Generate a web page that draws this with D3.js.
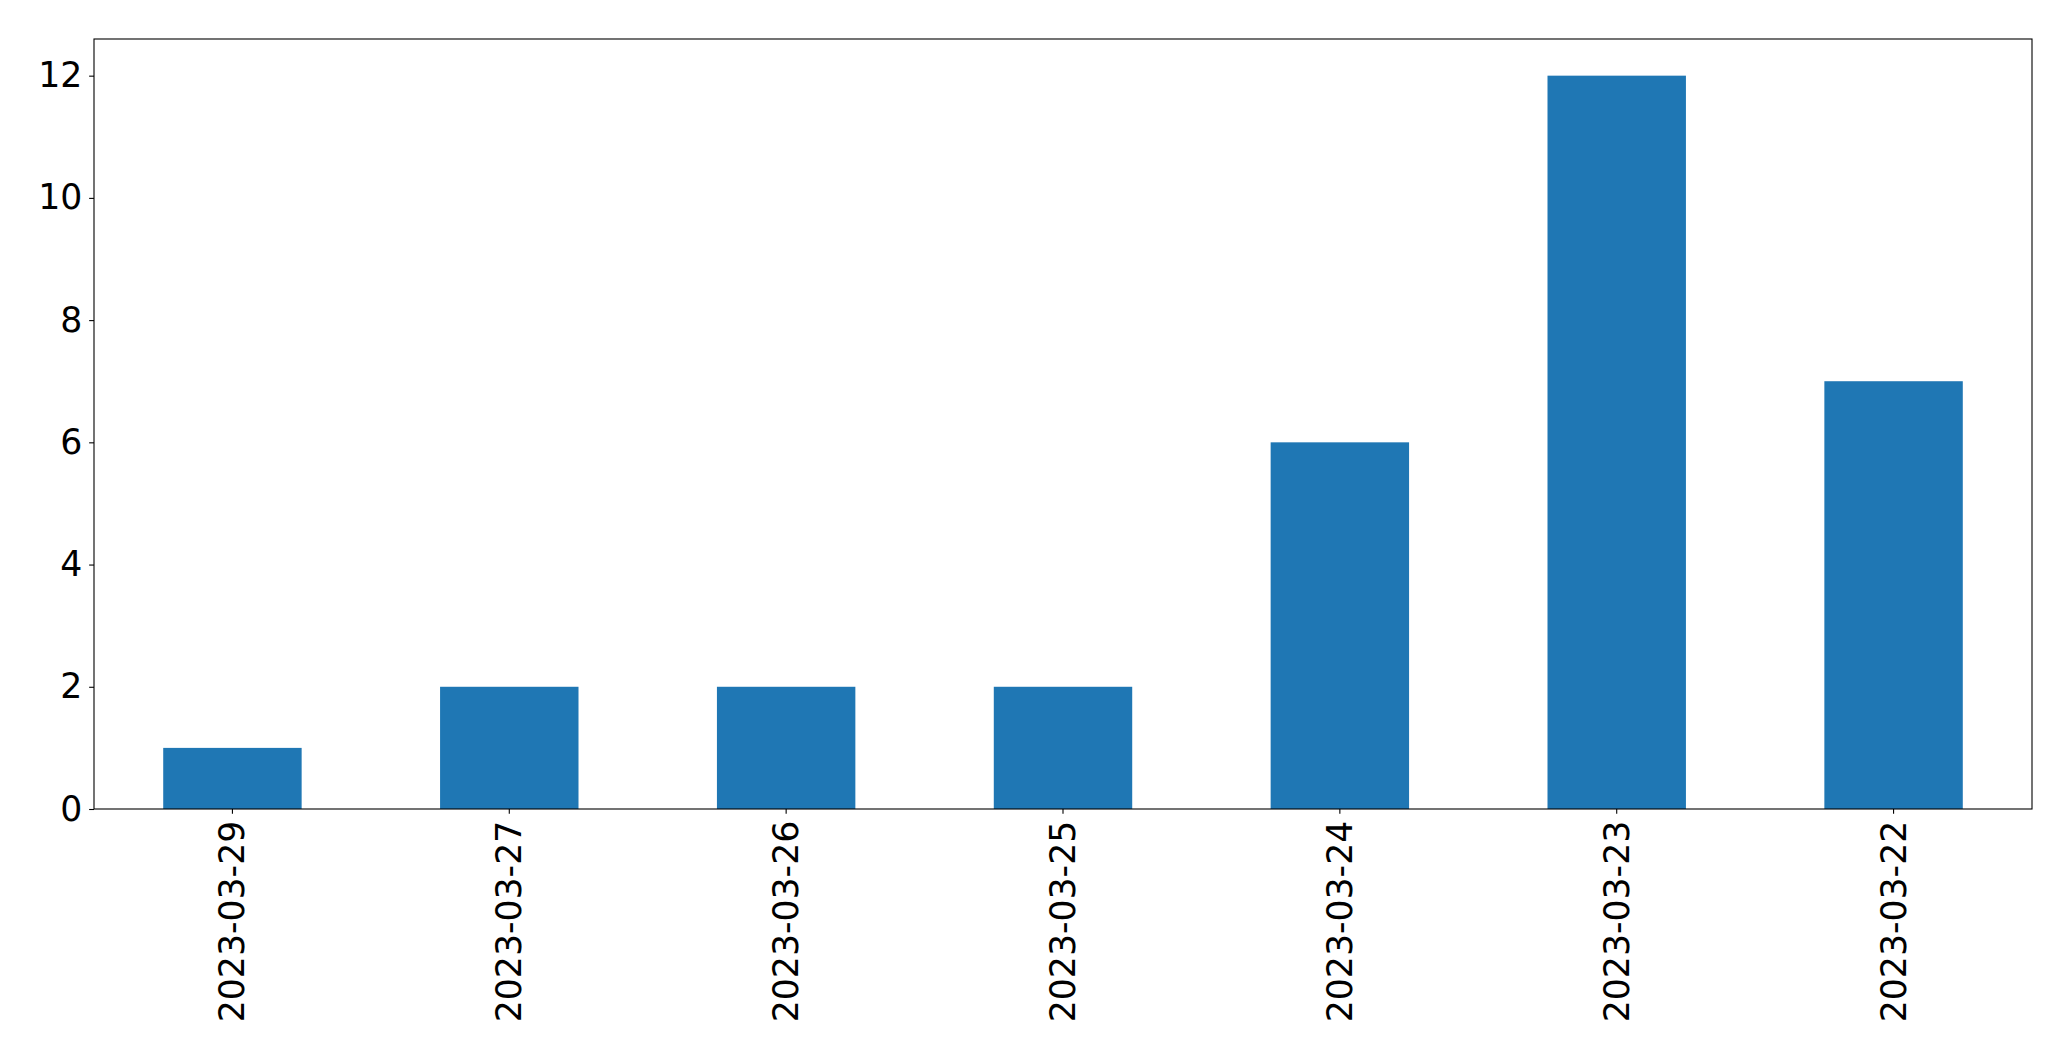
<!DOCTYPE html>
<html>
<head>
<meta charset="utf-8">
<script src="https://cdn.jsdelivr.net/npm/d3@7"></script>
<style>
  html, body { margin: 0; padding: 0; background: #fff; }
  svg { display: block; }
  text { font-family: "DejaVu Sans", sans-serif; fill: #000; }
</style>
</head>
<body>
<svg id="chart" width="2071" height="1061"></svg>
<script>
const categories = ["2023-03-29", "2023-03-27", "2023-03-26", "2023-03-25", "2023-03-24", "2023-03-23", "2023-03-22"];
const values = [1, 2, 2, 2, 6, 12, 7];
const yTicks = [0, 2, 4, 6, 8, 10, 12];

const W = 2071, H = 1061;
const margin = { left: 94, right: 2071 - 2032, top: 39, bottom: 1061 - 809 };
const svg = d3.select("#chart");

const x = d3.scaleBand()
  .domain(categories)
  .range([margin.left, W - margin.right])
  .paddingInner(0.5)
  .paddingOuter(0.25);

const yMax = d3.max(values) * 1.05;
const y = d3.scaleLinear()
  .domain([0, yMax])
  .range([H - margin.bottom, margin.top]);

const fontSize = "34.7px";
const tickLen = 4.86;
const pad = 4.86;

// bars
svg.append("g")
  .selectAll("rect")
  .data(values)
  .join("rect")
  .attr("x", (d, i) => x(categories[i]))
  .attr("width", x.bandwidth())
  .attr("y", d => y(d))
  .attr("height", d => y(0) - y(d))
  .attr("fill", "#1f77b4");

// y axis
const yAxis = svg.append("g")
  .attr("transform", `translate(${margin.left},0)`)
  .call(d3.axisLeft(y).tickValues(yTicks).tickSize(tickLen).tickSizeOuter(0).tickPadding(pad + 2));
yAxis.select(".domain").remove();
yAxis.selectAll(".tick line").attr("stroke", "#000").attr("stroke-width", 1.1);
yAxis.selectAll(".tick text")
  .attr("font-size", fontSize)
  .attr("font-family", "DejaVu Sans, sans-serif")
  .attr("fill", "#000");

// x axis
const xAxis = svg.append("g")
  .attr("transform", `translate(0,${H - margin.bottom})`)
  .call(d3.axisBottom(x).tickSize(tickLen).tickSizeOuter(0));
xAxis.select(".domain").remove();
xAxis.selectAll(".tick line").attr("stroke", "#000").attr("stroke-width", 1.1);
xAxis.selectAll(".tick text")
  .attr("font-size", fontSize)
  .attr("font-family", "DejaVu Sans, sans-serif")
  .attr("fill", "#000")
  .attr("text-anchor", "end")
  .attr("dy", null)
  .attr("dominant-baseline", "central")
  .attr("y", 0)
  .attr("transform", `translate(0,${tickLen + pad + 2}) rotate(-90)`);

// frame
svg.append("rect")
  .attr("x", margin.left)
  .attr("y", margin.top)
  .attr("width", W - margin.right - margin.left)
  .attr("height", H - margin.bottom - margin.top)
  .attr("fill", "none")
  .attr("stroke", "#000")
  .attr("stroke-width", 1.1);
</script>
</body>
</html>
